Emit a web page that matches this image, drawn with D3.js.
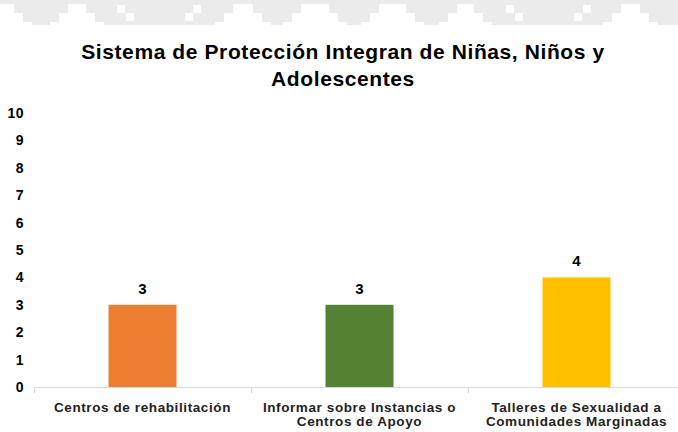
<!DOCTYPE html>
<html><head><meta charset="utf-8">
<script src="https://cdn.jsdelivr.net/npm/d3@7"></script>
<style>body{margin:0;background:#fff}svg{display:block}</style>
</head><body>
<svg id="c" width="678" height="432"></svg>
<script>
const categories = [["Centros de rehabilitación"], ["Informar sobre Instancias o", "Centros de Apoyo"], ["Talleres de Sexualidad a", "Comunidades Marginadas"]];
const values = [3, 3, 4];
const colors = ["#ED7D31", "#548235", "#FFC000"];
const yTicks = [0,1,2,3,4,5,6,7,8,9,10];
const titleLines = ["Sistema de Protección Integran de Niñas, Niños y", "Adolescentes"];

const svg = d3.select("#c");
const font = "'Liberation Sans', Arial, sans-serif";

// decorative header band
const deco = svg.append("g");
deco.append("rect").attr("x",0).attr("y",0).attr("width",678).attr("height",25).attr("fill","#ebebeb");
const pyramids = [[-10,14],[68,86],[233,253],[301,329],[379,406],[457,474],[621,640]];
pyramids.forEach(([a,b]) => {
  deco.append("path").attr("d","M"+[[a-18,26],[a-18,22],[a-9,22],[a-9,13],[a,13],[a,4],[b,4],[b,13],[b+9,13],[b+9,22],[b+18,22],[b+18,26]].map(p=>p.join(",")).join("L")+"Z").attr("fill","#fff");
});
const squares = [[117,5],[126,13],[193,5],[185,13],[506,5],[515,13],[583,5],[574,13]];
squares.forEach(([x,y]) => deco.append("rect").attr("x",x).attr("y",y).attr("width",8).attr("height",8).attr("fill","#fff"));

// title
svg.append("text").attr("x",343).attr("y",59).attr("text-anchor","middle")
  .attr("font-family",font).attr("font-weight","bold").attr("font-size",21).attr("letter-spacing",0.6).attr("fill","#000")
  .selectAll("tspan").data(titleLines).join("tspan")
  .attr("x",343).attr("dy",(d,i)=>i===0?0:27).text(d=>d);

const x = d3.scaleBand().domain(d3.range(values.length)).range([34,685]).paddingInner(0).paddingOuter(0);
const y = d3.scaleLinear().domain([0,10]).range([387,113]);

// y labels
svg.append("g").selectAll("text").data(yTicks).join("text")
  .attr("x",24).attr("y",d=>y(d)).attr("dy","0.35em").attr("text-anchor","end")
  .attr("font-family",font).attr("font-weight","bold").attr("font-size",14).attr("letter-spacing",0.5).attr("fill","#000")
  .text(d=>d);

// bars
const bw = 68;
svg.append("g").selectAll("rect").data(values).join("rect")
  .attr("x",(d,i)=>x(i)+x.bandwidth()/2-bw/2).attr("width",bw)
  .attr("y",d=>y(d)).attr("height",d=>y(0)-y(d))
  .attr("fill",(d,i)=>colors[i]);

// value labels
svg.append("g").selectAll("text").data(values).join("text")
  .attr("x",(d,i)=>x(i)+x.bandwidth()/2).attr("y",d=>y(d)-11)
  .attr("text-anchor","middle").attr("font-family",font).attr("font-weight","bold").attr("font-size",15).attr("fill","#000")
  .text(d=>d);

// x axis
const xa = svg.append("g");
xa.append("line").attr("x1",34).attr("x2",678).attr("y1",y(0)+0.5).attr("y2",y(0)+0.5).attr("stroke","#d9d9d9");
d3.range(values.length+1).forEach(i => {
  const xx = i<values.length ? x(i) : 685;
  xa.append("line").attr("x1",xx+0.5).attr("x2",xx+0.5).attr("y1",y(0)).attr("y2",y(0)+6).attr("stroke","#d9d9d9");
});
xa.selectAll("text.cat").data(categories).join("text").attr("class","cat")
  .attr("x",(d,i)=>x(i)+x.bandwidth()/2).attr("y",412)
  .attr("text-anchor","middle").attr("font-family",font).attr("font-weight","bold").attr("font-size",13.5).attr("letter-spacing",0.6).attr("fill","#222")
  .each(function(d,i){
    d3.select(this).selectAll("tspan").data(d).join("tspan")
      .attr("x",x(i)+x.bandwidth()/2).attr("dy",(t,j)=>j===0?0:14).text(t=>t);
  });
</script>
</body></html>
